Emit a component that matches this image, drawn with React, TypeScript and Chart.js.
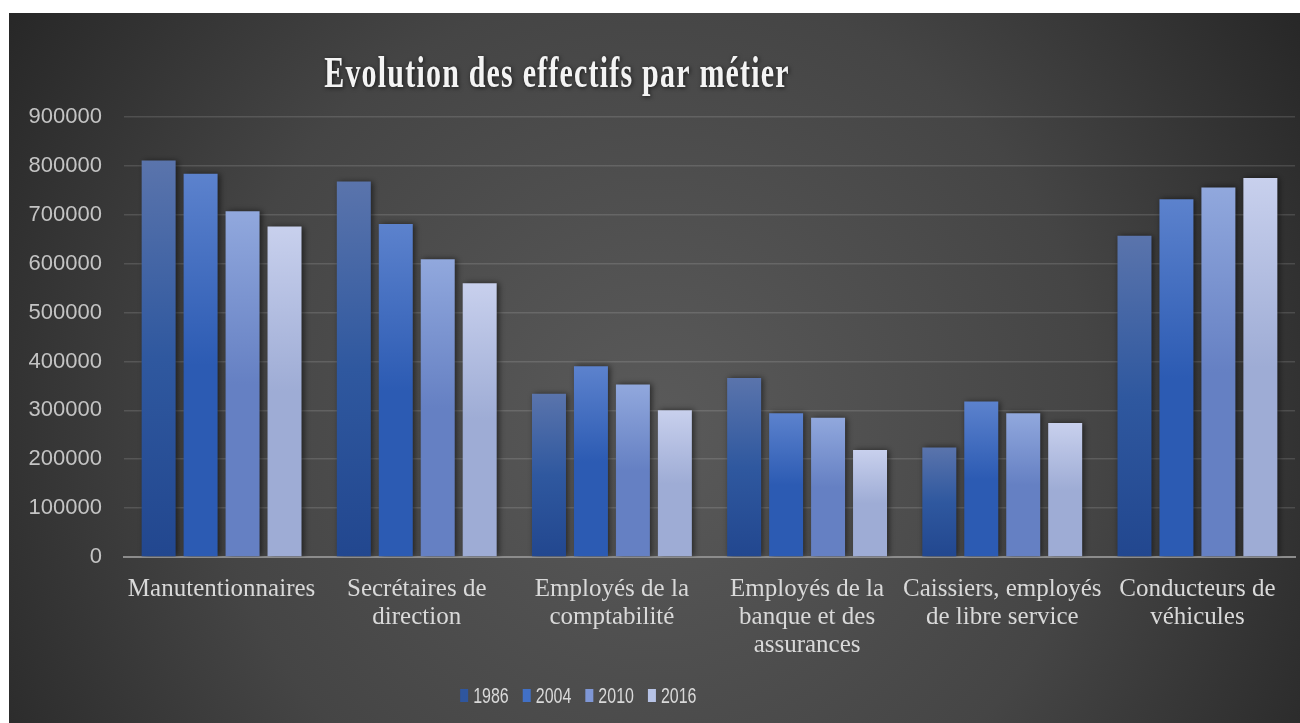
import React, { useEffect, useRef } from "react";
import { Chart, registerables } from "chart.js";

Chart.register(...registerables);

const titleText = "Evolution des effectifs par métier";

const categories: string[][] = [
  ["Manutentionnaires"],
  ["Secrétaires de", "direction"],
  ["Employés de la", "comptabilité"],
  ["Employés de la", "banque et des", "assurances"],
  ["Caissiers, employés", "de libre service"],
  ["Conducteurs de", "véhicules"],
];

const seriesNames = ["1986", "2004", "2010", "2016"];

const values1986 = [811000, 768000, 334000, 366000, 224000, 657000];
const values2004 = [784000, 681000, 390000, 294000, 318000, 732000];
const values2010 = [707000, 609000, 353000, 285000, 294000, 756000];
const values2016 = [676000, 560000, 300000, 219000, 274000, 775000];

const yTicks = [0, 100000, 200000, 300000, 400000, 500000, 600000, 700000, 800000, 900000];

const gradientTops = ["#5a74ac", "#5c82cd", "#91a8dd", "#c8d0ed"];
const gradientBottoms = ["#22478f", "#2c5bb3", "#6580c3", "#9eacd5"];
const legendColors = ["#2f569e", "#4170c6", "#7f97d6", "#b7c3e6"];

const backgroundPlugin = {
  id: "bgRadial",
  beforeDraw(chart: any) {
    const { ctx, width, height } = chart;
    ctx.save();
    const g = ctx.createRadialGradient(width * 0.5, height * 0.58, 0, width * 0.5, height * 0.58, width * 0.62);
    g.addColorStop(0, "#5a5a5a");
    g.addColorStop(0.55, "#454545");
    g.addColorStop(1, "#242424");
    ctx.fillStyle = g;
    ctx.fillRect(0, 0, width, height);
    ctx.restore();
  },
};

const shadowPlugin = {
  id: "barShadow",
  beforeDatasetsDraw(chart: any) {
    const ctx = chart.ctx;
    ctx.save();
    ctx.shadowColor = "rgba(0,0,0,0.55)";
    ctx.shadowBlur = 6;
    ctx.shadowOffsetX = 2;
    ctx.shadowOffsetY = 0;
  },
  afterDatasetsDraw(chart: any) {
    chart.ctx.restore();
  },
};

const textPlugin = {
  id: "titleLegend",
  afterDraw(chart: any) {
    const ctx = chart.ctx as CanvasRenderingContext2D;
    // Title
    ctx.save();
    ctx.font = "bold 30px 'Liberation Serif', serif";
    (ctx as any).letterSpacing = "1.2px";
    ctx.fillStyle = "#f4f4f4";
    ctx.textAlign = "center";
    ctx.textBaseline = "alphabetic";
    ctx.shadowColor = "rgba(0,0,0,0.65)";
    ctx.shadowBlur = 4;
    ctx.shadowOffsetX = 1;
    ctx.shadowOffsetY = 1;
    ctx.translate(chart.width * 0.4245, 74);
    ctx.scale(1, 1.45);
    ctx.fillText(titleText, 0, 0);
    ctx.restore();

    // Legend
    ctx.save();
    ctx.font = "16px 'Liberation Sans', sans-serif";
    const boxW = 8;
    const gap = 5;
    const spacing = 14;
    const widths = seriesNames.map((s) => ctx.measureText(s).width);
    const total = widths.reduce((a, w) => a + boxW + gap + w, 0) + spacing * (seriesNames.length - 1);
    let x = chart.width * 0.441 - total / 2;
    const baseY = 690;
    seriesNames.forEach((name, i) => {
      ctx.fillStyle = legendColors[i];
      ctx.fillRect(x, 676, boxW, 13);
      ctx.save();
      ctx.fillStyle = "#d9d9d9";
      ctx.textAlign = "left";
      ctx.textBaseline = "alphabetic";
      ctx.translate(x + boxW + gap, baseY);
      ctx.scale(1, 1.4);
      ctx.fillText(name, 0, 0);
      ctx.restore();
      x += boxW + gap + widths[i] + spacing;
    });
    ctx.restore();
  },
};

function makeGradient(i: number) {
  return (context: any) => {
    const chart = context.chart;
    const { chartArea, scales } = chart;
    if (!chartArea || context.type !== "data") return legendColors[i];
    const top = scales.y.getPixelForValue(context.raw);
    const g = chart.ctx.createLinearGradient(0, top, 0, chartArea.bottom);
    g.addColorStop(0, gradientTops[i]);
    g.addColorStop(0.5, i === 0 ? "#2f589f" : gradientBottoms[i]);
    g.addColorStop(1, gradientBottoms[i]);
    return g;
  };
}

export default function App() {
  const canvasRef = useRef<HTMLCanvasElement | null>(null);

  useEffect(() => {
    if (!canvasRef.current) return;
    const allValues = [values1986, values2004, values2010, values2016];
    const chart = new Chart(canvasRef.current, {
      type: "bar",
      data: {
        labels: categories,
        datasets: allValues.map((vals, i) => ({
          label: seriesNames[i],
          data: vals,
          backgroundColor: makeGradient(i),
          borderWidth: 0,
          barPercentage: 0.81,
          categoryPercentage: 0.86,
        })),
      },
      options: {
        animation: false,
        responsive: true,
        maintainAspectRatio: false,
        layout: { padding: { left: 0, right: 5, top: 104, bottom: 49 } },
        plugins: {
          tooltip: { enabled: false },
          title: { display: false },
          legend: { display: false },
        },
        scales: {
          x: {
            grid: { drawOnChartArea: false, drawTicks: false },
            border: { display: true, color: "#8c8c8c", width: 2 },
            ticks: {
              color: "#d9d9d9",
              padding: 18,
              font: { family: "'Liberation Serif', serif", size: 25, lineHeight: "28px" },
              maxRotation: 0,
              autoSkip: false,
            },
            afterFit: (scale: any) => {
              scale.height = 117;
            },
          },
          y: {
            min: 0,
            max: 900000,
            afterBuildTicks: (scale: any) => {
              scale.ticks = yTicks.map((v) => ({ value: v }));
            },
            grid: { color: "rgba(255,255,255,0.13)", lineWidth: 1.5, drawTicks: false },
            border: { display: false },
            ticks: {
              color: "#c4c4c4",
              padding: 22,
              font: { family: "'Liberation Sans', sans-serif", size: 22 },
              callback: (v: any) => String(v),
            },
            afterFit: (scale: any) => {
              scale.width = 115;
            },
          },
        },
      },
      plugins: [backgroundPlugin, shadowPlugin, textPlugin],
    });
    return () => chart.destroy();
  }, []);

  return (
    <div style={{ position: "fixed", left: 9, top: 13, width: 1291, height: 710 }}>
      <canvas ref={canvasRef} />
    </div>
  );
}
